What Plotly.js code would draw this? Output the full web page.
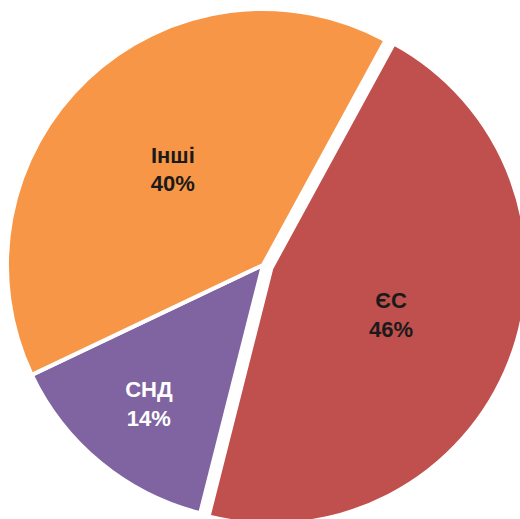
<!DOCTYPE html>
<html>
<head>
<meta charset="utf-8">
<script src="https://cdn.plot.ly/plotly-3.0.1.min.js"></script>
<style>
html, body { margin: 0; padding: 0; width: 520px; height: 519px; overflow: hidden; background: #ffffff; }
#chart { position: absolute; left: -2px; top: 0px; width: 530px; height: 530px; }
</style>
</head>
<body>
<div id="chart"></div>
<script>
const labels = ["ЄС", "СНД", "Інші"];
const values = [46, 14, 40];
const colors = ["#C0504D", "#8064A2", "#F79646"];
const textColors = ["#1a1a1a", "#ffffff", "#1a1a1a"];
const pulls = [0.035, 0, 0];

const data = [{
  type: "pie",
  labels: labels,
  values: values,
  sort: false,
  direction: "clockwise",
  rotation: 28.6,
  pull: pulls,
  marker: { colors: colors, line: { color: "#ffffff", width: 4 } },
  textinfo: "label+percent",
  textposition: "inside",
  insidetextorientation: "horizontal",
  textfont: { family: "Liberation Sans, Arial, sans-serif", size: 22, color: textColors, weight: "bold" },
  hoverinfo: "none",
  showlegend: false
}];

const layout = {
  width: 530,
  height: 530,
  margin: { l: 0, r: 0, t: 0, b: 0, pad: 0 },
  paper_bgcolor: "#ffffff",
  plot_bgcolor: "#ffffff",
  showlegend: false
};

Plotly.newPlot("chart", data, layout, { displayModeBar: false, staticPlot: true });
</script>
</body>
</html>
